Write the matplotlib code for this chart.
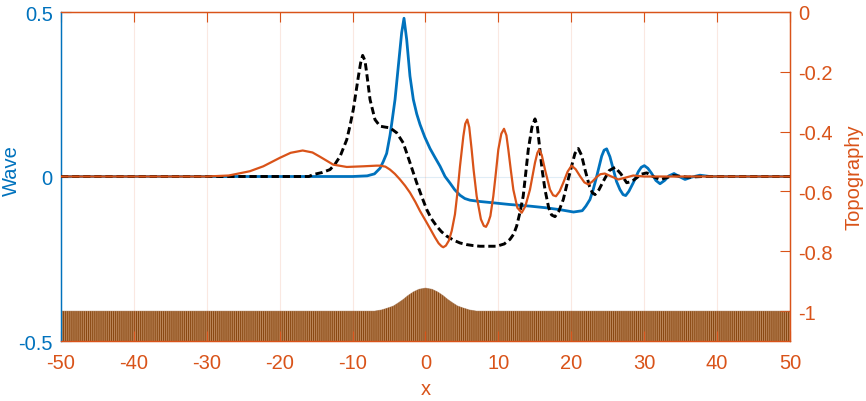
import matplotlib
matplotlib.use("Agg")
import matplotlib.pyplot as plt

plt.rcParams['font.family'] = ['Liberation Sans', 'DejaVu Sans']
plt.rcParams['axes.unicode_minus'] = False
plt.rcParams['hatch.linewidth'] = 0.7

BLUE = '#0072BD'
ORANGE = '#D95319'

# ---- data ----
blue_x = [-50, -10, -8, -7, -6.24, -5.8, -5.33, -4.87, -4.64, -4.18, -3.73, -3.27, -2.95,
          -2.58, -2.13, -1.67, -1.2, -0.75, -0.1, 0.62, 1.3, 2.0, 2.68, 3.36, 4.0, 4.73,
          5.4, 6.1, 7.48, 8.85, 11.5, 14.3, 16.5, 18.5, 20.3, 21.5, 22.0, 22.56, 23.0,
          23.48, 24.17, 24.5, 24.85, 25.3, 25.77, 26.2, 26.68, 27.1, 27.46, 27.9, 28.5,
          29.2, 29.6, 30.02, 30.5, 31.0, 31.6, 32.17, 32.8, 33.4, 34.09, 34.8, 35.6,
          36.5, 37.65, 39, 50]
blue_y = [0, 0, 0.002, 0.008, 0.025, 0.045, 0.07, 0.125, 0.16, 0.234, 0.335, 0.437, 0.481,
          0.416, 0.305, 0.234, 0.19, 0.158, 0.12, 0.085, 0.058, 0.031, 0.0, -0.02, -0.04,
          -0.057, -0.067, -0.072, -0.076, -0.079, -0.085, -0.090, -0.095, -0.101, -0.108,
          -0.104, -0.09, -0.07, -0.04, 0.0, 0.062, 0.08, 0.084, 0.06, 0.021, -0.015, -0.04,
          -0.055, -0.058, -0.045, -0.019, 0.015, 0.028, 0.033, 0.025, 0.01, -0.012,
          -0.022, -0.012, 0.002, 0.009, 0.0, -0.009, -0.002, 0.004, 0, 0]

black_x = [-50, -16, -15.4, -14.2, -13.1, -12.4, -11.7, -10.8, -10.35, -9.9, -9.2, -8.9,
           -8.62, -8.3, -8.07, -7.61, -6.93, -6.24, -5.5, -4.87, -3.96, -3.05, -2.13,
           -1.21, -0.5, 0.16, 0.8, 1.53, 2.2, 2.9, 3.8, 4.73, 5.65, 6.56, 7.48, 8.5, 9.76,
           10.8, 11.59, 12.1, 12.5, 12.95, 13.4, 13.75, 14.1, 14.6, 15.02, 15.35, 15.7,
           16.0, 16.39, 16.9, 17.3, 17.76, 18.3, 18.9, 19.5, 20.04, 20.5, 20.96, 21.4,
           21.88, 22.5, 22.9, 23.25, 23.8, 24.4, 25.2, 26.0, 26.8, 27.6, 28.3, 28.97,
           29.6, 30.34, 31.2, 32.2, 33.0, 34.0, 36.0, 38, 50]
black_y = [0, 0, 0.006, 0.012, 0.021, 0.038, 0.062, 0.112, 0.155, 0.204, 0.305, 0.345,
           0.368, 0.352, 0.315, 0.234, 0.173, 0.153, 0.150, 0.148, 0.133, 0.102, 0.042,
           -0.019, -0.062, -0.10, -0.128, -0.151, -0.168, -0.181, -0.193, -0.202, -0.207,
           -0.21, -0.212, -0.212, -0.212, -0.205, -0.191, -0.175, -0.151, -0.11, -0.06,
           0.01, 0.082, 0.15, 0.175, 0.15, 0.08, 0.02, -0.04, -0.095, -0.117, -0.122,
           -0.105, -0.07, -0.015, 0.031, 0.07, 0.085, 0.065, 0.021, -0.03, -0.05, -0.055,
           -0.04, -0.014, 0.018, 0.028, 0.008, -0.019, -0.015, -0.004, 0.007, 0.011, 0.0,
           -0.009, -0.004, 0.003, -0.002, 0, 0]

orange_x = [-50, -30, -27, -24.1, -22.25, -19.96, -18.5, -16.85, -15.5, -14.47, -12.65,
            -10.8, -8.53, -6.7, -6.24, -5.5, -4.87, -4.2, -3.5, -2.8, -2.13, -1.4, -0.75,
            0.16, 0.62, 1.3, 1.8, 2.2, 2.44, 2.8, 3.2, 3.6, 4.04, 4.4, 4.73, 5.19, 5.45,
            5.73, 6.0, 6.33, 6.6, 7.02, 7.6, 8.0, 8.3, 8.6, 8.9, 9.3, 9.6, 9.99, 10.4,
            10.77, 11.1, 11.36, 11.7, 12.05, 12.6, 13.2, 13.7, 14.33, 15.02, 15.35, 15.6,
            15.95, 16.39, 17.08, 17.5, 17.9, 18.4, 18.9, 19.5, 20.04, 20.6, 21.2, 21.8,
            22.34, 22.9, 23.5, 24.0, 24.6, 25.5, 26.46, 27.5, 28.5, 30, 50]
orange_y = [0, 0, 0.003, 0.016, 0.031, 0.057, 0.072, 0.079, 0.073, 0.06, 0.036, 0.029,
            0.031, 0.033, 0.033, 0.03, 0.021, 0.008, -0.009, -0.028, -0.049, -0.077,
            -0.105, -0.14, -0.158, -0.185, -0.203, -0.212, -0.215, -0.21, -0.195, -0.165,
            -0.115, -0.045, 0.031, 0.122, 0.16, 0.173, 0.15, 0.082, 0.02, -0.06, -0.13,
            -0.15, -0.153, -0.14, -0.12, -0.06, 0.0, 0.082, 0.13, 0.145, 0.125, 0.082,
            0.02, -0.04, -0.095, -0.11, -0.09, -0.04, 0.042, 0.072, 0.082, 0.065, 0.021,
            -0.04, -0.057, -0.06, -0.045, -0.019, 0.015, 0.033, 0.022, 0.001, -0.018,
            -0.024, -0.015, -0.001, 0.007, 0.009, 0.0, -0.009, -0.003, 0.003, 0, 0]

topo_x = [-50, -7, -6, -5.1, -4.4, -3.7, -3.05, -2.4, -1.67, -0.9, 0, 0.9, 1.67, 2.4,
          3.05, 3.7, 4.4, 5.1, 6, 7, 50]
topo_y = [-1.0, -1.0, -0.996, -0.989, -0.983, -0.972, -0.961, -0.948, -0.936, -0.927,
          -0.923, -0.927, -0.936, -0.948, -0.961, -0.972, -0.983, -0.989, -0.996, -1.0,
          -1.0]

x_ticks = [-50, -40, -30, -20, -10, 0, 10, 20, 30, 40, 50]
wave_ticks = [-0.5, 0, 0.5]
wave_labels = ['-0.5', '0', '0.5']
topo_ticks = [-1, -0.8, -0.6, -0.4, -0.2, 0]
topo_labels = ['-1', '-0.8', '-0.6', '-0.4', '-0.2', '0']

# ---- figure ----
fig = plt.figure(figsize=(8.66, 4.02), dpi=100)
ax1 = fig.add_axes([61/866, 1-342/402, (790-61)/866, (342-13)/402])
ax2 = ax1.twinx()
ax1.set_zorder(2)
ax1.patch.set_visible(False)
ax2.patch.set_visible(True)
ax2.patch.set_facecolor('white')

FS = 14.5

# topography (right axis)
ax2.fill_between(topo_x, -1.1, topo_y, facecolor='#bb865a', edgecolor='#87460f',
                 hatch='|' * 8, linewidth=0)
ax2.plot(topo_x, topo_y, color='#9a6a45', lw=0.6, alpha=0.5)
ax2.set_ylim(-1.1, 0)
ax2.set_yticks(topo_ticks)
ax2.set_yticklabels(topo_labels)
ax2.tick_params(axis='y', direction='in', length=7, width=0.8, colors=ORANGE,
                labelsize=FS, pad=6)
ax2.set_ylabel('Topography', color=ORANGE, fontsize=FS, labelpad=8)

# wave curves (left axis)
ax1.plot(blue_x, blue_y, color=BLUE, lw=2.0, zorder=3)
ax1.plot(black_x, black_y, color='black', lw=2.1, ls=(0, (2.5, 1.3)), zorder=4)
ax1.plot(orange_x, orange_y, color=ORANGE, lw=1.6, zorder=5)

ax1.set_xlim(-50, 50)
ax1.set_ylim(-0.5, 0.5)
ax1.set_xticks(x_ticks)
ax1.set_xticklabels([str(v) for v in x_ticks])
ax1.set_yticks(wave_ticks)
ax1.set_yticklabels(wave_labels)
ax1.tick_params(axis='x', direction='in', length=7, width=0.8, colors=ORANGE,
                labelsize=FS, pad=9, top=True)
ax1.tick_params(axis='y', direction='in', length=7, width=0.8, colors=BLUE,
                labelsize=FS, pad=6)
ax1.set_xlabel('x', color=ORANGE, fontsize=FS, labelpad=5)
ax1.set_ylabel('Wave', color=BLUE, fontsize=FS)
ax1.yaxis.set_label_coords(-0.055, 0.52)

ax1.grid(False)
for xv in x_ticks[1:-1]:
    ax1.axvline(xv, color=ORANGE, alpha=0.13, lw=0.8, zorder=0.5)
ax1.axhline(0, color=BLUE, alpha=0.12, lw=0.8, zorder=0.5)

for ax in (ax1, ax2):
    for s in ax.spines.values():
        s.set_linewidth(0.9)
    ax.spines['top'].set_color(ORANGE)
    ax.spines['bottom'].set_color(ORANGE)
    ax.spines['right'].set_color(ORANGE)
    ax.spines['left'].set_color(BLUE)

fig.savefig('out.png', dpi=100)
